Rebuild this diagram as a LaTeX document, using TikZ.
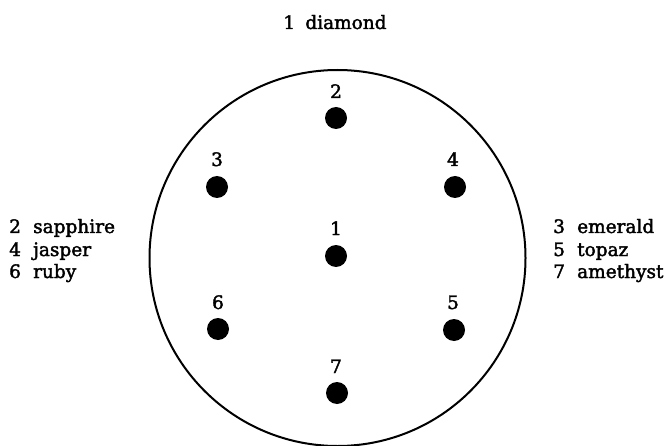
\documentclass[tikz,border=0pt]{standalone}
\usepackage{fontspec}
\setmainfont{DejaVu Serif}[FakeBold=2]
\begin{document}
\begin{tikzpicture}[x=1pt,y=-1pt,
  stone/.style={circle,fill=black,inner sep=0pt,minimum size=22pt},
  num/.style={font=\fontsize{18.5}{20}\selectfont,inner sep=0pt,anchor=base},
  lst/.style={font=\fontsize{18.5}{20}\selectfont,inner sep=0pt,anchor=base west}]
\useasboundingbox (0,0) rectangle (671,446);
\node[circle,draw,line width=2pt,minimum size=376pt,inner sep=0pt] (ring) at (337.5,258) {};
\node[stone] (d1) at (336,256) {};
\node[stone] (d2) at (336,118) {};
\node[stone] (d3) at (217,187) {};
\node[stone] (d4) at (455,187) {};
\node[stone] (d5) at (454,330) {};
\node[stone] (d6) at (218,329) {};
\node[stone] (d7) at (337,393) {};
\node[num] (n1) at (336,235) {1};
\node[num] (n2) at (336,98) {2};
\node[num] (n3) at (217,166) {3};
\node[num] (n4) at (453,166) {4};
\node[num] (n5) at (453,309) {5};
\node[num] (n6) at (218,309) {6};
\node[num] (n7) at (336,373) {7};
\node[num] (top) at (335,29) {\makebox[22pt][l]{1}diamond};
\node[lst] (l2) at (9,233) {\makebox[24pt][l]{2}sapphire};
\node[lst] (l4) at (9,256) {\makebox[24pt][l]{4}jasper};
\node[lst] (l6) at (9,278) {\makebox[24pt][l]{6}ruby};
\node[lst] (r3) at (553,233) {\makebox[24pt][l]{3}emerald};
\node[lst] (r5) at (553,256) {\makebox[24pt][l]{5}topaz};
\node[lst] (r7) at (553,278) {\makebox[24pt][l]{7}amethyst};
\end{tikzpicture}
\end{document}
